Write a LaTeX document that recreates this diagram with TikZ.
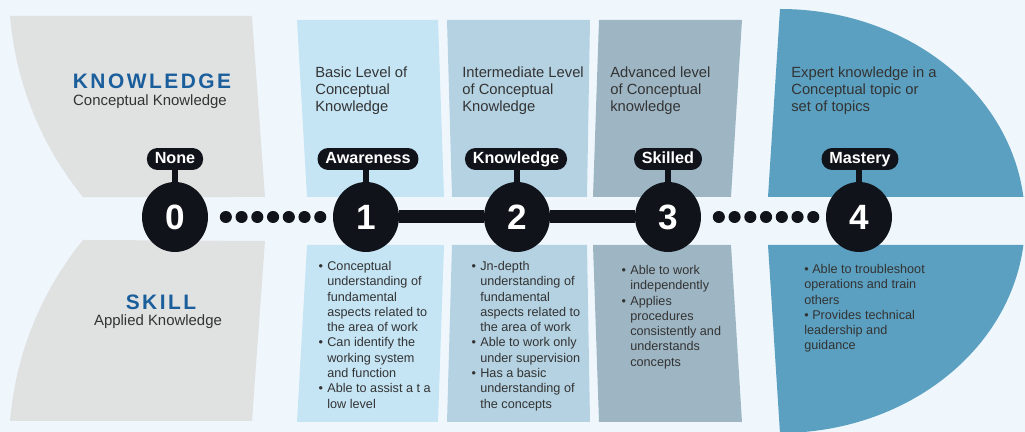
\documentclass[tikz,border=0pt]{standalone}
\usepackage{fontspec}
\setmainfont{Liberation Sans}
\definecolor{skBack}{HTML}{EFF7FD}
\definecolor{skGrey}{HTML}{E0E2E2}
\definecolor{skLevelA}{HTML}{C5E5F5}
\definecolor{skLevelB}{HTML}{B4D2E2}
\definecolor{skLevelC}{HTML}{9EB6C4}
\definecolor{skLevelD}{HTML}{5BA0C0}
\definecolor{skDark}{HTML}{10131A}
\definecolor{skText}{HTML}{333333}
\definecolor{skBlue}{HTML}{1B5E9C}
\usetikzlibrary{positioning,shapes.geometric}
\newcommand{\bluetitle}[1]{{\color{skBlue}\bfseries\addfontfeature{LetterSpace=12}#1}}
\newcommand{\itm}{\llap{\textbullet\hspace{2.5pt}}}

\begin{document}
\begin{tikzpicture}[x=0.02cm, y=0.02cm,
  levelnum/.style={ellipse, fill=skDark, text=white, minimum width=1.32cm,
    minimum height=1.4cm, inner sep=0pt, font=\fontsize{20}{20}\selectfont\bfseries},
  levelname/.style={rounded corners=6pt, fill=skDark, text=white,
    minimum height=12.5pt, text height=6.7pt, text depth=1.9pt,
    inner xsep=4.5pt, inner ysep=0pt, font=\fontsize{9.2}{10}\selectfont\bfseries},
  stem/.style={line width=3.4pt, draw=skDark},
  solidlink/.style={line width=7.4pt, draw=skDark},
  dotlink/.style={line width=6.8pt, draw=skDark, line cap=round,
    dash pattern=on 0.1pt off 8.86pt, shorten <=9.9pt, shorten >=5.1pt},
  heading/.style={anchor=north west, inner sep=0pt, align=left,
    text=skText, font=\fontsize{8.4}{9.9}\selectfont},
  points/.style={anchor=north west, inner sep=0pt, align=left,
    text=skText, font=\fontsize{7.2}{8.7}\selectfont},
  sub/.style={inner sep=0pt, text=skText, font=\fontsize{8.5}{10}\selectfont}
]
  \useasboundingbox (0,0) rectangle (1025,432);
  \fill[skBack] (0,0) rectangle (1025,432);

  % grey side: knowledge / skill
  \fill[skGrey] (252,416) -- (10,416) arc[start angle=184.76, end angle=219.17, radius=330]
    -- (265,235) -- cycle;
  \fill[skGrey] (252,11) -- (10,11) arc[start angle=175.24, end angle=140.83, radius=330]
    -- (265,191) -- cycle;

  % level columns
  \fill[skLevelA] (297,412) -- (438,412) -- (444,235) -- (307,235) -- cycle;
  \fill[skLevelA] (307,187) -- (444,187) -- (438,10) -- (297,10) -- cycle;
  \fill[skLevelB] (447,412) -- (590,412) -- (587,235) -- (452,235) -- cycle;
  \fill[skLevelB] (452,187) -- (587,187) -- (590,10) -- (447,10) -- cycle;
  \fill[skLevelC] (599,412) -- (742,412) -- (731,235) -- (593,235) -- cycle;
  \fill[skLevelC] (593,187) -- (731,187) -- (742,10) -- (599,10) -- cycle;
  \fill[skLevelD] (768,235) -- (780,423) arc[start angle=90, end angle=6.5, x radius=245, y radius=212]
    -- (1025,235) -- cycle;
  \fill[skLevelD] (768,187) -- (1023.4,187) arc[start angle=-6.5, end angle=-90, x radius=245, y radius=212]
    -- cycle;

  \node[font=\fontsize{11.9}{12}\selectfont] (know) at (152,351) {\bluetitle{KNOWLEDGE}};
  \node[sub] (knowsub) at (150,330) {Conceptual Knowledge};
  \node[font=\fontsize{11.9}{12}\selectfont] (skill) at (161,130) {\bluetitle{SKILL}};
  \node[sub] (skillsub) at (158,110) {Applied Knowledge};

  % top texts
  \node[heading] (t1) at (315,366) {Basic Level of\\Conceptual\\Knowledge};
  \node[heading] (t2) at (462,366) {Intermediate Level\\of Conceptual\\Knowledge};
  \node[heading] (t3) at (610,366) {Advanced level\\of Conceptual\\knowledge};
  \node[heading] (t4) at (791,366) {Expert knowledge in a\\Conceptual topic or\\set of topics};

  % bottom texts
  \node[points] (b1) at (327,171) {\itm Conceptual\\understanding of\\fundamental\\aspects related to\\the area of work\\
    \itm Can identify the\\working system\\and function\\\itm Able to assist a t a\\low level};
  \node[points] (b2) at (480,171) {\itm Jn-depth\\understanding of\\fundamental\\aspects related to\\the area of work\\
    \itm Able to work only\\under supervision\\\itm Has a basic\\understanding of\\the concepts};
  \node[points] (b3) at (630,167) {\itm Able to work\\independently\\\itm Applies\\procedures\\consistently and\\understands\\concepts};
  \node[points] (b4) at (804,168) {\textbullet{} Able to troubleshoot\\operations and train\\others\\
    \textbullet{} Provides technical\\leadership and\\guidance};

  % levels
  \node[levelnum] (c0) at (175,215) {0};
  \node[levelnum] (c1) at (366,215) {1};
  \node[levelnum] (c2) at (517,215) {2};
  \node[levelnum] (c3) at (668,215) {3};
  \node[levelnum] (c4) at (859,215) {4};

  \node[levelname] (l0) at (175,273) {None};
  \node[levelname] (l1) at (368,273) {Awareness};
  \node[levelname] (l2) at (516,273) {Knowledge};
  \node[levelname] (l3) at (668,273) {Skilled};
  \node[levelname] (l4) at (860,273) {Mastery};

  \foreach \i in {0,...,4}
    \draw[stem] (c\i.north) -- (c\i.north |- l\i.south);

  \draw[dotlink] (c0) -- (c1);
  \draw[solidlink] (c1) -- (c2);
  \draw[solidlink] (c2) -- (c3);
  \draw[dotlink] (c3) -- (c4);
\end{tikzpicture}
\end{document}
